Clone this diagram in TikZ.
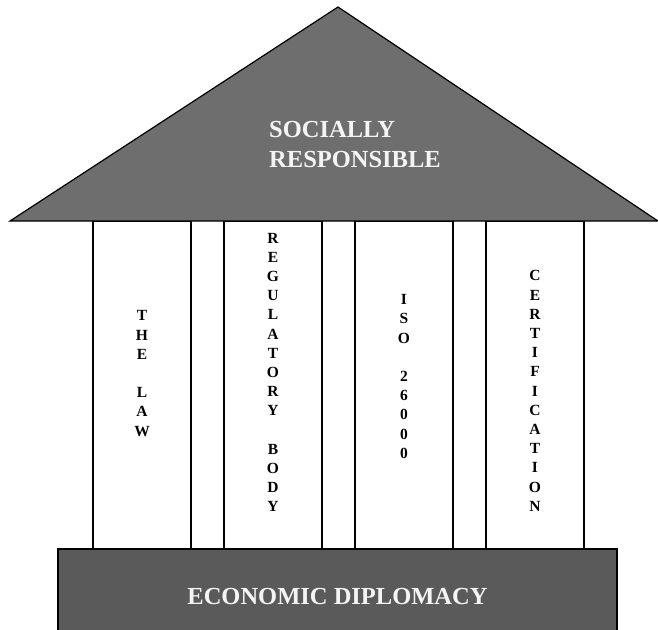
\documentclass[tikz,border=0pt]{standalone}
\usepackage{fontspec}
\setmainfont{Liberation Serif}
\newfontfamily\heavy{Liberation Serif Bold}
\usetikzlibrary{positioning}
\definecolor{roofgray}{HTML}{6E6E6E}
\definecolor{basegray}{HTML}{5A5A5A}
\definecolor{chalk}{HTML}{F4F4F4}

\begin{document}
\begin{tikzpicture}[x=1pt,y=-1pt,
  node distance=33pt,
  pillar/.style={draw=black,line width=1.2pt,fill=white,minimum width=98pt,
    minimum height=328pt,inner sep=0pt,outer sep=0pt},
  letters/.style={align=center,inner sep=0pt,
    font=\heavy\fontsize{15.5}{19.2}\selectfont},
  slab/.style={draw=black,line width=1.2pt,fill=basegray,text=chalk,
    minimum width=559pt,minimum height=95pt,inner sep=0pt,
    font=\heavy\fontsize{24.5}{30}\selectfont}]
\useasboundingbox (0,0) rectangle (658,629);
\clip (0,0) rectangle (658,629);
% the four columns
\node[pillar] (law) at (142,385) {};
\node[pillar,right=of law] (reg) {};
\node[pillar,right=of reg] (iso) {};
\node[pillar,right=of iso] (cert) {};
\node[letters] (lawText) at (142,373.5) {T\\H\\E\\~\\L\\A\\W};
\node[letters] (regText) at (273,372.5) {R\\E\\G\\U\\L\\A\\T\\O\\R\\Y\\~\\B\\O\\D\\Y};
\node[letters] (isoText) at (404,376.5) {I\\S\\O\\~\\2\\6\\0\\0\\0};
\node[letters] (certText) at (535,391) {C\\E\\R\\T\\I\\F\\I\\C\\A\\T\\I\\O\\N};
% roof
\draw[line width=1.2pt,fill=roofgray] (10,221) -- (338,7) -- (658,221) -- cycle;
\node[align=left,inner sep=0pt,text=chalk,
  font=\heavy\fontsize{24.5}{30}\selectfont] (roofText) at (355,145)
  {SOCIALLY\\RESPONSIBLE};
% foundation
\node[slab] (econ) at (337.5,596.5) {ECONOMIC DIPLOMACY};
\end{tikzpicture}
\end{document}
